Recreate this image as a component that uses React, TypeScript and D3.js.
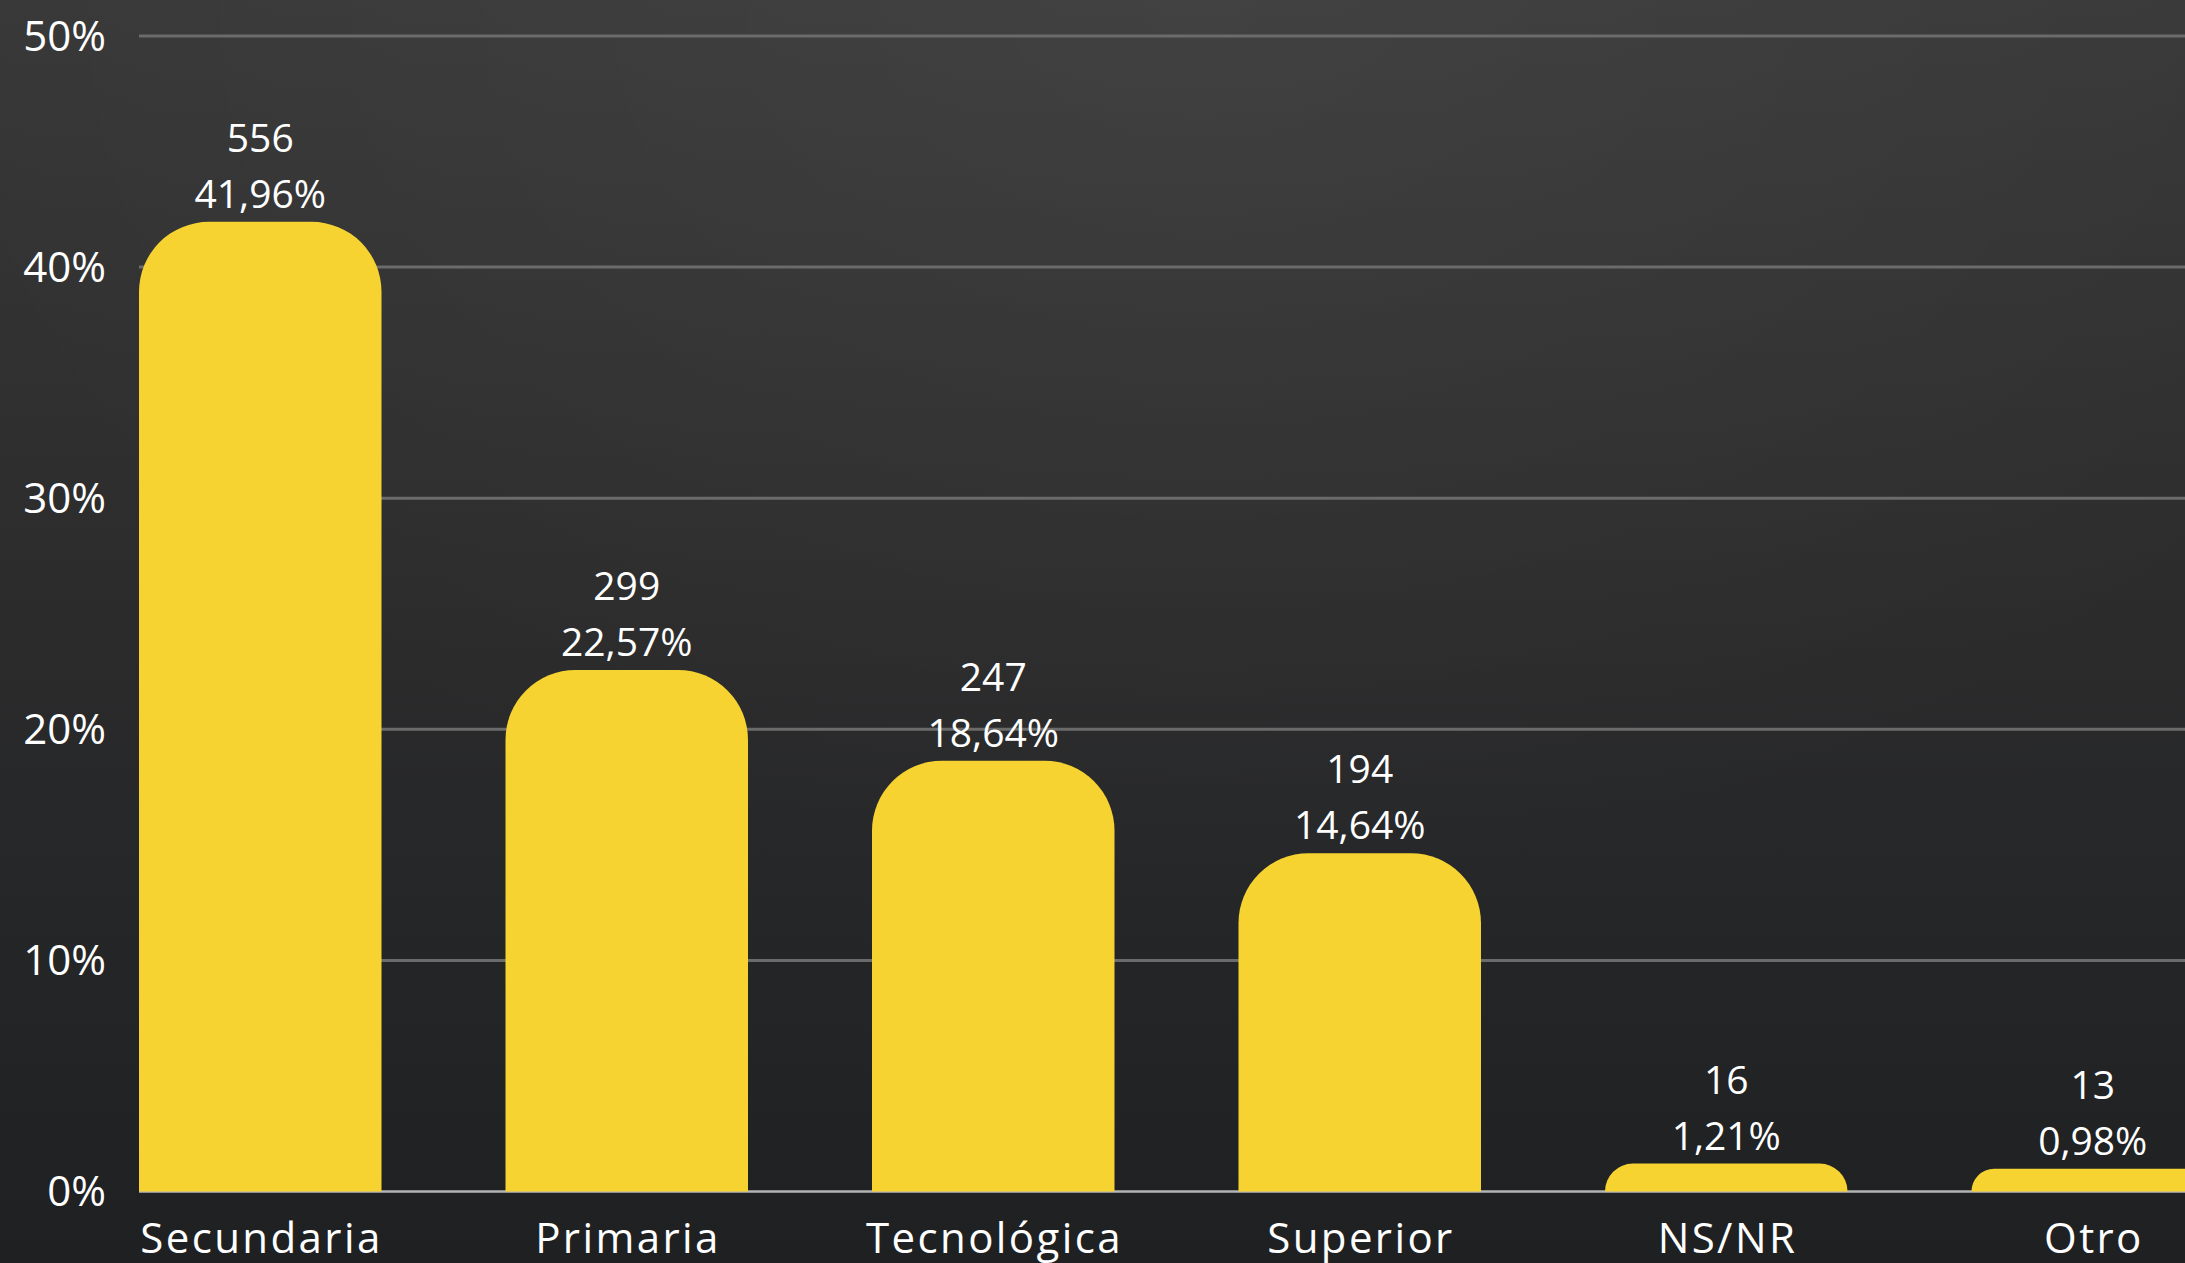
import React from "react";
import * as d3 from "d3";

const categories = ["Secundaria", "Primaria", "Tecnológica", "Superior", "NS/NR", "Otro"];
const counts = [556, 299, 247, 194, 16, 13];
const percents = [41.96, 22.57, 18.64, 14.64, 1.21, 0.98];
const yTicks = [0, 10, 20, 30, 40, 50];

const W = 2185;
const H = 1263;

export default function App() {
  const x = d3
    .scaleBand<string>()
    .domain(categories)
    .range([139, 2214])
    .paddingInner(0.3383)
    .paddingOuter(0);
  const y = d3.scaleLinear().domain([0, 50]).range([1191.5, 36]);
  const bw = x.bandwidth();
  const R = 70;
  const font = "'Open Sans', 'DejaVu Sans', sans-serif";

  const barPath = (x0: number, top: number, bottom: number) => {
    const h = bottom - top;
    const r = Math.min(R, h, bw / 2);
    const p = d3.path();
    p.moveTo(x0, bottom);
    p.lineTo(x0, top + r);
    p.arcTo(x0, top, x0 + r, top, r);
    p.lineTo(x0 + bw - r, top);
    p.arcTo(x0 + bw, top, x0 + bw, top + r, r);
    p.lineTo(x0 + bw, bottom);
    p.closePath();
    return p.toString();
  };

  const fmt = (v: number) => v.toFixed(2).replace(".", ",") + "%";

  return (
    <svg
      width={W}
      height={H}
      style={{ position: "absolute", left: 0, top: 0, display: "block" }}
      fontFamily={font}
    >
      <defs>
        <linearGradient id="bg" x1="0" y1="0" x2="0" y2="1">
          <stop offset="0" stopColor="#383838" />
          <stop offset="0.5" stopColor="#2b2b2c" />
          <stop offset="1" stopColor="#1e2022" />
        </linearGradient>
        <radialGradient id="glow" cx="0.55" cy="0" r="0.6" gradientTransform="scale(1,1.2)">
          <stop offset="0" stopColor="#ffffff" stopOpacity="0.05" />
          <stop offset="1" stopColor="#ffffff" stopOpacity="0" />
        </radialGradient>
      </defs>
      <rect x={0} y={0} width={W} height={H} fill="url(#bg)" />
      <rect x={0} y={0} width={W} height={H} fill="url(#glow)" />

      {yTicks.map((t) => (
        <g key={t}>
          {t !== 0 && (
            <line x1={139} x2={W} y1={y(t)} y2={y(t)} stroke="#6b6b6b" strokeWidth={3} />
          )}
          <text
            x={106}
            y={y(t)}
            dy="0.35em"
            textAnchor="end"
            fill="#ffffff"
            fontSize={42}
          >
            {t + "%"}
          </text>
        </g>
      ))}
      <line x1={139} x2={W} y1={y(0)} y2={y(0)} stroke="#b4b4b4" strokeWidth={2.5} />

      {categories.map((c, i) => {
        const x0 = x(c)!;
        const top = y(percents[i]);
        const cx = x0 + bw / 2;
        return (
          <g key={c}>
            <path d={barPath(x0, top, y(0))} fill="#f7d331" />
            <text x={cx} y={top - 56 - 14} textAnchor="middle" fill="#ffffff" fontSize={39}>
              {counts[i]}
            </text>
            <text x={cx} y={top - 14} textAnchor="middle" fill="#ffffff" fontSize={39}>
              {fmt(percents[i])}
            </text>
            <text
              x={cx + 1.2}
              y={1253}
              textAnchor="middle"
              fill="#ffffff"
              fontSize={42}
              letterSpacing={2.4}
            >
              {c}
            </text>
          </g>
        );
      })}
    </svg>
  );
}
